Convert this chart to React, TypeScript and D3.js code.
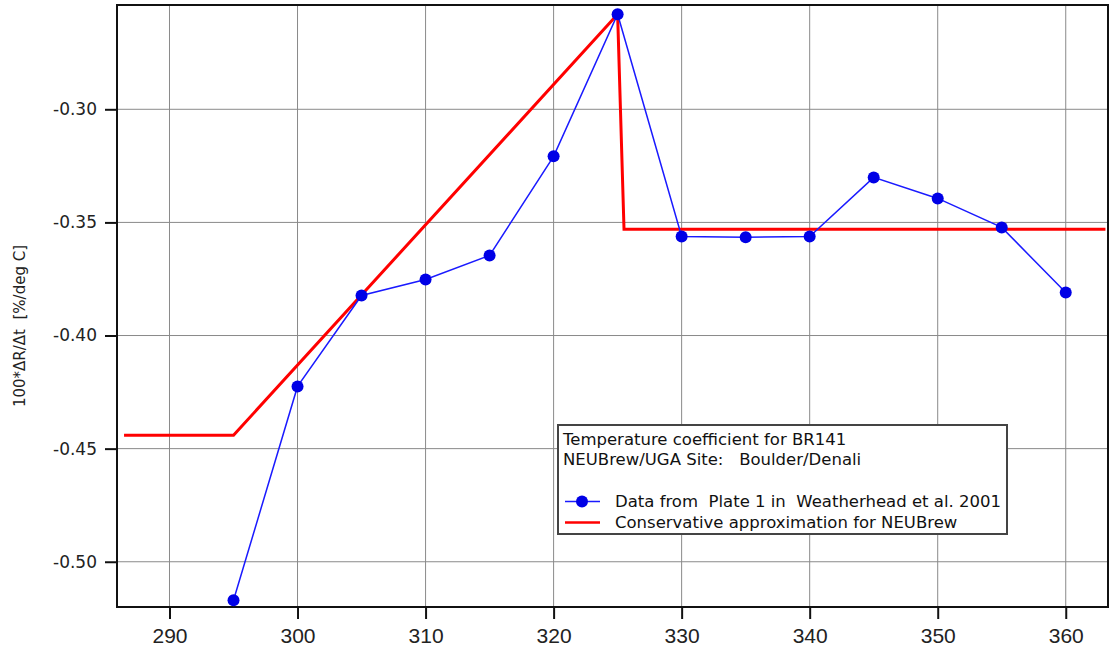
import React, { useRef, useEffect } from "react";
import * as d3 from "d3";

// measured temperature coefficient (Weatherhead et al. 2001, Plate 1)
const wavelengths = [295, 300, 305, 310, 315, 320, 325, 330, 335, 340, 345, 350, 355, 360];
const coefficients = [
  -0.517, -0.4225, -0.3823, -0.3752, -0.3646, -0.3208, -0.258, -0.3562, -0.3566, -0.3562,
  -0.3301, -0.3394, -0.3522, -0.381,
];

// conservative approximation for NEUBrew
const approxX = [286.45, 295, 325, 325.5, 363.1];
const approxY = [-0.4441, -0.4441, -0.258, -0.353, -0.353];

const xTicks = [290, 300, 310, 320, 330, 340, 350, 360];
const yTicks = [-0.5, -0.45, -0.4, -0.35, -0.3];

const App = () => {
  const ref = useRef<SVGSVGElement>(null);

  useEffect(() => {
    const svg = d3.select(ref.current);
    svg.selectAll("*").remove();

    const width = 1110;
    const height = 651;
    const left = 117, right = 1108, top = 5, bottom = 607;
    const font = "'DejaVu Sans', Verdana, sans-serif";
    svg.attr("width", width).attr("height", height);

    const x = d3.scaleLinear().domain([285.9, 363.3]).range([left, right]);
    const y = d3.scaleLinear().domain([-0.52, -0.2539]).range([bottom, top]);

    svg.append("rect").attr("width", width).attr("height", height).attr("fill", "white");

    // grid
    const grid = svg.append("g").attr("stroke", "#8a8a8a").attr("stroke-width", 1);
    grid
      .selectAll("line.vx")
      .data(xTicks)
      .join("line")
      .attr("x1", (d) => x(d))
      .attr("x2", (d) => x(d))
      .attr("y1", top)
      .attr("y2", bottom);
    grid
      .selectAll("line.hy")
      .data(yTicks)
      .join("line")
      .attr("x1", left)
      .attr("x2", right)
      .attr("y1", (d) => y(d))
      .attr("y2", (d) => y(d));

    // axes
    const xAxis = svg
      .append("g")
      .attr("transform", `translate(0,${bottom})`)
      .call(d3.axisBottom(x).tickValues(xTicks).tickSize(12).tickPadding(9).tickFormat(d3.format("d")));
    xAxis.select(".domain").remove();
    xAxis.selectAll("line").attr("stroke", "#111").attr("stroke-width", 2);
    xAxis
      .selectAll("text")
      .attr("font-family", "'Liberation Sans Narrow', 'Liberation Sans', Arial, sans-serif")
      .attr("font-size", 21)
      .attr("fill", "#222");

    const yAxis = svg
      .append("g")
      .attr("transform", `translate(${left},0)`)
      .call(d3.axisLeft(y).tickValues(yTicks).tickSize(12).tickPadding(8).tickFormat(d3.format(".2f")));
    yAxis.select(".domain").remove();
    yAxis.selectAll("line").attr("stroke", "#111").attr("stroke-width", 2);
    yAxis
      .selectAll("text")
      .attr("font-family", font)
      .attr("font-size", 17)
      .attr("fill", "#222")
      .text((d: any) => d3.format(".2f")(d).replace("−", "-"));

    // frame
    svg
      .append("rect")
      .attr("x", left)
      .attr("y", top)
      .attr("width", right - left)
      .attr("height", bottom - top)
      .attr("fill", "none")
      .attr("stroke", "#111")
      .attr("stroke-width", 2);

    // red approximation
    const approx = approxX.map((v, i) => [v, approxY[i]] as [number, number]);
    svg
      .append("path")
      .datum(approx)
      .attr("fill", "none")
      .attr("stroke", "#ff0000")
      .attr("stroke-width", 3)
      .attr(
        "d",
        d3
          .line<[number, number]>()
          .x((d) => x(d[0]))
          .y((d) => y(d[1]))
      );

    // blue data
    const pts = wavelengths.map((v, i) => [v, coefficients[i]] as [number, number]);
    svg
      .append("path")
      .datum(pts)
      .attr("fill", "none")
      .attr("stroke", "#1a1aff")
      .attr("stroke-width", 1.5)
      .attr(
        "d",
        d3
          .line<[number, number]>()
          .x((d) => x(d[0]))
          .y((d) => y(d[1]))
      );
    svg
      .append("g")
      .selectAll("circle")
      .data(pts)
      .join("circle")
      .attr("cx", (d) => x(d[0]))
      .attr("cy", (d) => y(d[1]))
      .attr("r", 6)
      .attr("fill", "#0000e6");

    // y label
    svg
      .append("text")
      .attr("transform", `translate(25,${(top + bottom) / 2 + 20}) rotate(-90)`)
      .attr("text-anchor", "middle")
      .attr("font-family", font)
      .attr("font-size", 15)
      .attr("fill", "#222")
      .style("white-space", "pre")
      .text("100*ΔR/Δt  [%/deg C]");

    // legend
    const lg = svg.append("g").attr("font-family", font).attr("font-size", 16.5).attr("fill", "#111");
    lg.append("rect")
      .attr("x", 558)
      .attr("y", 425)
      .attr("width", 449)
      .attr("height", 109)
      .attr("fill", "white")
      .attr("stroke", "#444")
      .attr("stroke-width", 2);
    lg.append("text").attr("x", 563).attr("y", 445).text("Temperature coefficient for BR141");
    lg.append("text").attr("x", 563).attr("y", 465).style("white-space", "pre").text("NEUBrew/UGA Site:   Boulder/Denali");
    lg.append("line").attr("x1", 565).attr("x2", 600).attr("y1", 501.5).attr("y2", 501.5).attr("stroke", "#1a1aff").attr("stroke-width", 1.5);
    lg.append("circle").attr("cx", 582).attr("cy", 501.5).attr("r", 6).attr("fill", "#0000e6");
    lg.append("text").attr("x", 615).attr("y", 507).style("white-space", "pre").text("Data from  Plate 1 in  Weatherhead et al. 2001");
    lg.append("line").attr("x1", 565).attr("x2", 600).attr("y1", 522.5).attr("y2", 522.5).attr("stroke", "#ff0000").attr("stroke-width", 2.5);
    lg.append("text").attr("x", 615).attr("y", 528).text("Conservative approximation for NEUBrew");
  }, []);

  return <svg ref={ref} style={{ position: "absolute", left: 0, top: 0, display: "block" }}></svg>;
};

export default App;
